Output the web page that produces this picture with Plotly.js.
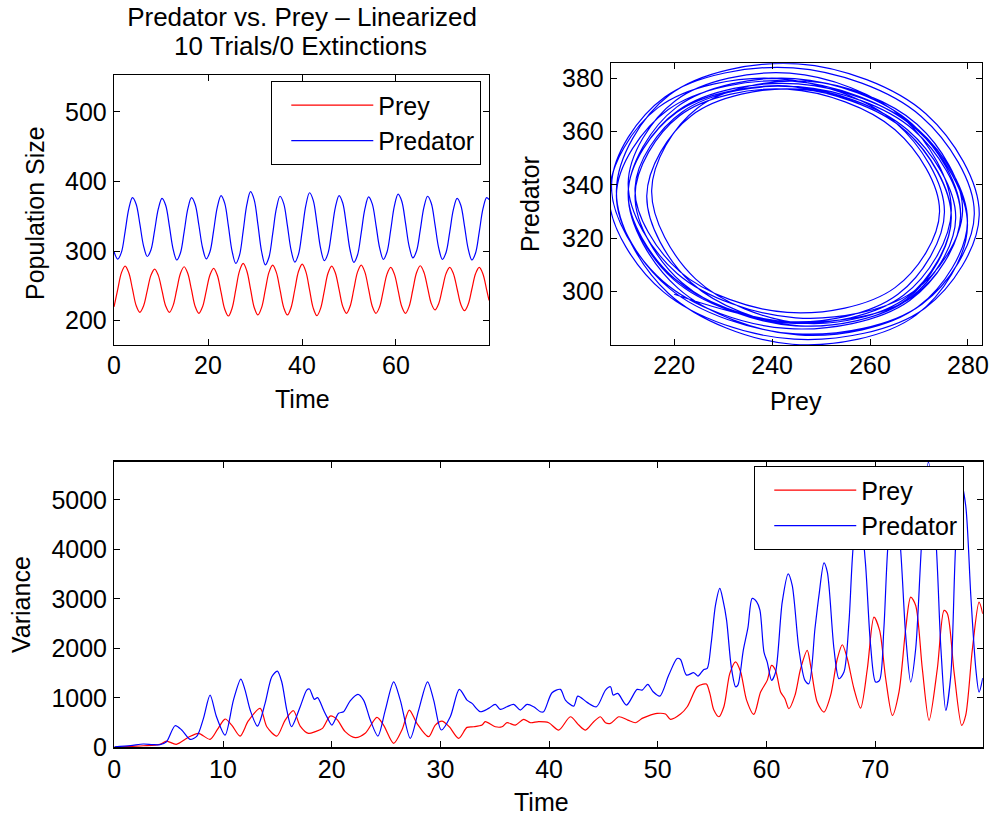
<!DOCTYPE html>
<html>
<head>
<meta charset="utf-8">
<script src="https://cdn.plot.ly/plotly-3.0.1.min.js"></script>
<style>html,body{margin:0;padding:0;background:#fff;}#chart{width:995px;height:818px;}</style>
</head>
<body>
<div id="chart"></div>
<script>
// ---- Population over time (mean trial), sampled every ~1/8 cycle ----
const popTime = [0, 0.79, 1.57, 2.36, 3.14, 3.93, 4.71, 5.5, 6.28, 7.07, 7.85, 8.64, 9.42, 10.21, 10.99, 11.78, 12.56, 13.35, 14.13, 14.92, 15.7, 16.49, 17.27, 18.06, 18.84, 19.63, 20.41, 21.2, 21.98, 22.77, 23.55, 24.34, 25.12, 25.91, 26.69, 27.48, 28.26, 29.05, 29.83, 30.62, 31.4, 32.19, 32.97, 33.76, 34.54, 35.33, 36.11, 36.9, 37.68, 38.47, 39.25, 40.04, 40.82, 41.61, 42.39, 43.18, 43.96, 44.75, 45.53, 46.32, 47.1, 47.89, 48.67, 49.46, 50.24, 51.03, 51.81, 52.6, 53.38, 54.17, 54.95, 55.74, 56.52, 57.31, 58.09, 58.88, 59.66, 60.45, 61.23, 62.02, 62.8, 63.59, 64.37, 65.16, 65.94, 66.73, 67.51, 68.3, 69.08, 69.87, 70.65, 71.44, 72.22, 73.01, 73.79, 74.58, 75.36, 76.15, 76.93, 77.72, 78.5, 79.29, 79.8];
const preyPop = [220, 245, 268.7, 278.5, 268.8, 245.3, 221.7, 212.0, 221.1, 243.1, 265.1, 274.2, 265.1, 243.1, 221.1, 212.0, 221.6, 244.8, 267.9, 277.5, 267.7, 244.1, 220.4, 210.6, 220.1, 242.9, 265.7, 275.2, 265.2, 241.0, 216.7, 206.7, 217.8, 244.5, 271.2, 282.3, 271.4, 245.3, 219.0, 208.2, 218.8, 244.1, 269.4, 279.9, 269.4, 244.1, 218.8, 208.2, 218.9, 244.8, 270.6, 281.3, 270.4, 244.3, 218.1, 207.2, 217.7, 242.9, 268.1, 278.5, 268.6, 244.6, 220.5, 210.6, 220.8, 245.3, 269.8, 279.9, 269.8, 245.3, 220.8, 210.6, 219.9, 243.6, 266.9, 276.6, 266.9, 243.6, 220.3, 210.6, 220.6, 244.8, 268.9, 278.9, 269.6, 247.2, 224.7, 215.4, 224.4, 246.0, 267.6, 276.6, 267.5, 245.5, 223.5, 214.4, 223.5, 245.5, 267.5, 276.6, 267.1, 244.3, 229];
const predPop = [299, 288.5, 298.1, 328.1, 360.7, 376.8, 367.4, 338.7, 307.6, 292.2, 301.5, 329.9, 360.6, 375.8, 365.9, 335.9, 303.3, 287.2, 297.2, 327.6, 360.5, 376.8, 367.0, 337.1, 304.8, 288.8, 299.0, 329.8, 363.3, 379.8, 368.9, 335.8, 299.9, 282.2, 293.8, 328.7, 366.6, 385.3, 373.6, 338.0, 299.4, 280.3, 291.2, 324.6, 360.9, 378.8, 368.2, 336.2, 301.4, 284.2, 295.3, 329.1, 365.7, 383.8, 372.9, 339.8, 303.9, 286.2, 296.7, 328.4, 362.8, 379.8, 369.1, 336.5, 301.2, 283.8, 294.3, 326.2, 360.7, 377.8, 367.8, 337.4, 304.5, 288.2, 298.7, 330.4, 364.8, 381.8, 371.6, 340.5, 306.8, 290.2, 300.1, 330.1, 362.7, 378.8, 368.7, 338.0, 304.7, 288.2, 298.0, 327.7, 359.9, 375.8, 365.9, 335.9, 303.3, 287.2, 297.2, 327.6, 360.5, 376.8, 374];

// ---- Variance across trials ----
const preyVarTime = [0, 1.5, 2.67, 4.2, 4.8, 5.7, 6.82, 7.74, 8.81, 9.49, 10.19, 10.8, 11.57, 12.34, 13.42, 14.03, 14.95, 15.72, 16.48, 17.1, 17.86, 18.48, 19.15, 19.86, 20.48, 21.24, 22.16, 23.08, 24.16, 24.77, 25.7, 26.46, 27.14, 27.84, 28.91, 29.53, 30.14, 30.82, 31.68, 32.45, 33.06, 33.83, 34.13, 35.05, 35.67, 36.13, 36.9, 37.66, 38.27, 39.04, 39.97, 40.89, 41.96, 42.73, 43.35, 44.11, 44.72, 45.19, 45.65, 46.42, 47.24, 47.95, 48.56, 49.08, 49.94, 50.71, 51.17, 52.09, 52.71, 53.63, 54.18, 54.48, 54.79, 55.16, 55.62, 56.08, 56.63, 57.16, 57.62, 58.17, 58.84, 59.46, 60.07, 60.47, 60.84, 61.3, 61.7, 62.06, 62.62, 63.14, 63.75, 64.06, 64.67, 65.29, 65.9, 66.52, 66.98, 67.44, 68.05, 68.66, 69.28, 69.89, 70.41, 70.97, 71.58, 72.19, 72.81, 73.27, 73.73, 74.34, 74.96, 75.72, 76.34, 76.65, 77.26, 77.96, 78.33, 78.95, 79.56, 79.9];
const preyVar = [0, 20, 32, 60, 127, 60, 202, 283, 162, 363, 572, 450, 228, 538, 787, 416, 228, 551, 740, 430, 283, 317, 383, 632, 565, 317, 196, 283, 605, 450, 81, 350, 753, 485, 215, 450, 531, 416, 182, 403, 416, 450, 518, 416, 416, 498, 450, 565, 498, 518, 497, 349, 618, 450, 349, 517, 618, 497, 484, 618, 551, 497, 585, 632, 685, 672, 565, 672, 820, 1224, 1278, 1278, 1090, 753, 618, 820, 1494, 1729, 1528, 955, 665, 1117, 1353, 1656, 1555, 1117, 983, 780, 1050, 1588, 1959, 1656, 915, 713, 1050, 1790, 2073, 1790, 1184, 794, 1588, 2632, 2363, 1386, 646, 1117, 2396, 3036, 2868, 1588, 545, 1588, 2767, 2700, 1521, 444, 646, 1992, 2935, 2700];
const predVarTime = [0, 1.5, 2.67, 3.5, 4.2, 4.8, 5.59, 6.2, 6.97, 7.6, 8.2, 8.81, 9.4, 10.19, 10.96, 11.64, 12.03, 12.5, 13.17, 13.87, 14.49, 15.0, 15.4, 15.87, 16.3, 17.1, 17.7, 17.95, 18.4, 18.7, 19.25, 19.6, 20.02, 20.63, 21.09, 21.7, 22.41, 22.93, 23.55, 24.25, 24.93, 25.7, 26.31, 27.23, 28.0, 28.82, 29.38, 30.08, 30.91, 31.74, 32.45, 32.91, 33.67, 34.44, 35.05, 35.51, 36.13, 36.74, 37.35, 37.97, 38.58, 39.19, 39.5, 40.27, 41.04, 41.5, 42.27, 42.64, 43.5, 44.36, 45.19, 45.65, 45.9, 46.32, 47.12, 48.1, 48.56, 49.08, 49.57, 50.19, 51.01, 51.78, 52.09, 52.64, 53.32, 53.69, 54.24, 54.55, 54.91, 55.31, 55.71, 56.0, 56.33, 56.76, 57.16, 57.37, 57.87, 58.3, 58.69, 59.1, 59.4, 59.77, 60.07, 60.47, 60.84, 61.45, 62.0, 62.37, 62.98, 63.54, 63.9, 64.46, 64.83, 65.29, 65.6, 66.21, 66.67, 67.13, 67.59, 68.05, 68.6, 69.1, 69.58, 70.04, 70.4, 70.8, 71.2, 71.75, 72.29, 72.81, 73.27, 73.73, 74.28, 74.9, 75.6, 76.05, 76.5, 76.96, 77.42, 77.9, 78.33, 78.8, 79.26, 79.56, 79.9];
const predVar = [10, 35, 67, 55, 53, 113, 437, 350, 162, 228, 585, 1056, 618, 248, 955, 1380, 1157, 753, 430, 888, 1426, 1541, 1325, 753, 416, 820, 1157, 1180, 970, 1006, 753, 600, 450, 687, 720, 941, 1070, 955, 551, 228, 753, 1325, 955, 182, 753, 1325, 955, 350, 618, 1171, 955, 888, 720, 787, 868, 767, 820, 868, 753, 868, 820, 720, 720, 1103, 1171, 955, 834, 1036, 909, 820, 1157, 1224, 1056, 1090, 855, 1171, 1157, 1272, 1123, 1036, 1460, 1797, 1775, 1460, 1508, 1440, 1575, 1595, 2100, 2874, 3212, 2975, 2571, 1628, 1224, 1258, 1965, 2424, 3010, 2942, 2774, 1925, 1723, 1353, 1521, 2935, 3507, 3272, 1992, 1353, 1286, 2396, 3070, 3729, 3541, 1992, 1387, 1521, 2531, 4214, 4750, 3743, 2060, 1319, 1353, 2396, 4145, 5050, 4145, 2262, 1319, 1992, 4145, 5770, 4145, 1992, 747, 1454, 4145, 5350, 4888, 3070, 1588, 1117, 1400];

const seriesNames = ['Prey', 'Predator'];
const titleLines = ['Predator vs. Prey \u2013 Linearized', '10 Trials/0 Extinctions'];
const axisTitles = {popX: 'Time', popY: 'Population Size', phaseX: 'Prey', phaseY: 'Predator', varX: 'Time', varY: 'Variance'};

const FONT = 'Liberation Sans, Arial, Helvetica, sans-serif';
const RED = '#ff0000', BLUE = '#0000ff';
const LW = 1.2;
const W = 995, H = 818;

const traces = [
  {x: popTime, y: preyPop, name: seriesNames[0], type: 'scatter', mode: 'lines',
   line: {color: RED, width: LW, shape: 'spline', smoothing: 1}, xaxis: 'x', yaxis: 'y', legend: 'legend'},
  {x: popTime, y: predPop, name: seriesNames[1], type: 'scatter', mode: 'lines',
   line: {color: BLUE, width: LW, shape: 'spline', smoothing: 1}, xaxis: 'x', yaxis: 'y', legend: 'legend'},
  {x: preyPop, y: predPop, name: 'Phase', type: 'scatter', mode: 'lines', showlegend: false,
   line: {color: BLUE, width: LW, shape: 'spline', smoothing: 1}, xaxis: 'x2', yaxis: 'y2'},
  {x: preyVarTime, y: preyVar, name: seriesNames[0], type: 'scatter', mode: 'lines',
   line: {color: RED, width: LW, shape: 'spline', smoothing: 0.8}, xaxis: 'x3', yaxis: 'y3', legend: 'legend2'},
  {x: predVarTime, y: predVar, name: seriesNames[1], type: 'scatter', mode: 'lines',
   line: {color: BLUE, width: LW, shape: 'spline', smoothing: 0.8}, xaxis: 'x3', yaxis: 'y3', legend: 'legend2'}
];

function ax(extra) {
  return Object.assign({
    showline: true, linecolor: '#000', linewidth: 1.3, mirror: 'allticks',
    ticks: 'inside', ticklen: 6, tickwidth: 1, tickcolor: '#000',
    showgrid: false, zeroline: false, fixedrange: true,
    tickfont: {family: FONT, size: 25, color: '#000'},
    automargin: false
  }, extra);
}
const labelFont = {family: FONT, size: 25, color: '#000'};
function label(text, px, py, rot, size) {
  return {text: text, xref: 'paper', yref: 'paper', x: px / W, y: 1 - py / H,
          xanchor: 'center', yanchor: 'middle', showarrow: false, textangle: rot || 0,
          font: size ? {family: FONT, size: size, color: '#000'} : labelFont};
}

const legendStyle = {
  xanchor: 'right', yanchor: 'top', xref: 'paper', yref: 'paper',
  bgcolor: '#fff', bordercolor: '#000', borderwidth: 1.3,
  font: {family: FONT, size: 25, color: '#000'}, itemwidth: 82, tracegroupgap: 0, indentation: 14
};

const layout = {
  width: W, height: H,
  margin: {l: 0, r: 0, t: 0, b: 0},
  paper_bgcolor: '#fff', plot_bgcolor: '#fff',
  font: {family: FONT, size: 25, color: '#000'},
  title: {text: titleLines[0], x: 302 / W, xref: 'container', xanchor: 'center',
          y: 1 - 17 / H, yref: 'container', yanchor: 'middle', font: {family: FONT, size: 26, color: '#000'}},
  xaxis: ax({domain: [0.1146, 0.4915], range: [0, 79.8], tickvals: [0, 20, 40, 60], anchor: 'y', ticklabelstandoff: -2}),
  yaxis: ax({domain: [0.5782, 0.9083], range: [165, 553], tickvals: [200, 300, 400, 500], anchor: 'x', ticklabelstandoff: 1}),
  xaxis2: ax({domain: [0.6141, 0.9866], range: [207.1, 282.8], tickvals: [220, 240, 260, 280], anchor: 'y2', ticklabelstandoff: -2}),
  yaxis2: ax({domain: [0.5782, 0.9226], range: [280, 385.5], tickvals: [300, 320, 340, 360, 380], anchor: 'x2', ticklabelstandoff: 1}),
  xaxis3: ax({domain: [0.1149, 0.9877], range: [0, 79.9], tickvals: [0, 10, 20, 30, 40, 50, 60, 70], anchor: 'y3', ticklabelstandoff: -1}),
  yaxis3: ax({domain: [0.0864, 0.4356], range: [0, 5774], tickvals: [0, 1000, 2000, 3000, 4000, 5000], anchor: 'x3', ticklabelstandoff: 1}),
  annotations: [
    label(titleLines[1], 300, 46, 0, 26),
    label(axisTitles.popX, 302, 399),
    label(axisTitles.popY, 35, 213, -90),
    label(axisTitles.phaseX, 796, 401),
    label(axisTitles.phaseY, 530, 204, -90),
    label(axisTitles.varX, 541, 802),
    label(axisTitles.varY, 21, 605, -90)
  ],
  legend: Object.assign({x: 0.4834, y: 1 - 81 / H}, legendStyle),
  legend2: Object.assign({x: 0.9688, y: 1 - 466 / H}, legendStyle),
  showlegend: true
};

Plotly.newPlot('chart', traces, layout, {displayModeBar: false, staticPlot: true});
</script>
</body>
</html>
